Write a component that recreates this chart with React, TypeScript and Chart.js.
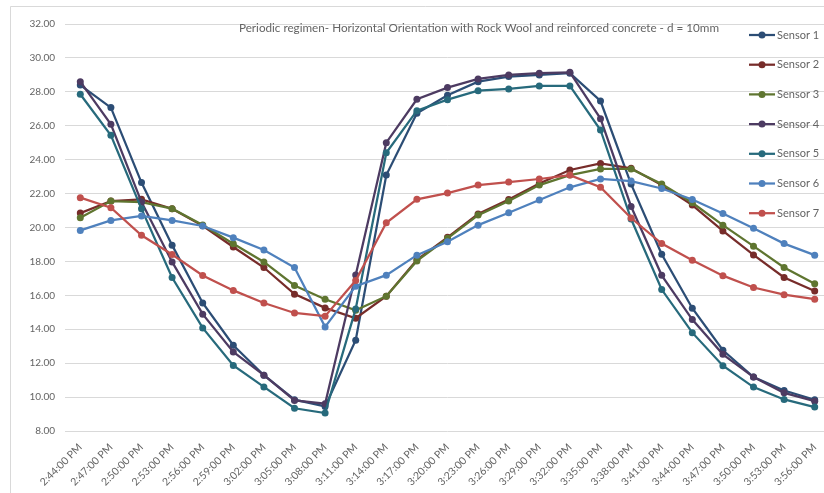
import { useEffect, useRef } from "react";
import { Chart, registerables } from "chart.js";

Chart.register(...registerables);

const timeLabels = [
  "2:44:00 PM", "2:47:00 PM", "2:50:00 PM", "2:53:00 PM", "2:56:00 PM",
  "2:59:00 PM", "3:02:00 PM", "3:05:00 PM", "3:08:00 PM", "3:11:00 PM",
  "3:14:00 PM", "3:17:00 PM", "3:20:00 PM", "3:23:00 PM", "3:26:00 PM",
  "3:29:00 PM", "3:32:00 PM", "3:35:00 PM", "3:38:00 PM", "3:41:00 PM",
  "3:44:00 PM", "3:47:00 PM", "3:50:00 PM", "3:53:00 PM", "3:56:00 PM",
];

const sensor1 = [28.4, 27.07, 22.65, 18.96, 15.55, 13.06, 11.29, 9.85, 9.45, 13.35, 23.09, 26.73, 27.8, 28.6, 28.9, 29.0, 29.1, 27.46, 22.56, 18.42, 15.24, 12.76, 11.18, 10.39, 9.84];
const sensor2 = [20.85, 21.56, 21.66, 21.11, 20.1, 18.85, 17.64, 16.07, 15.26, 14.65, 15.95, 18.1, 19.42, 20.8, 21.65, 22.6, 23.39, 23.78, 23.49, 22.5, 21.32, 19.8, 18.38, 17.05, 16.26];
const sensor3 = [20.58, 21.56, 21.5, 21.11, 20.15, 19.04, 17.97, 16.58, 15.77, 15.12, 15.95, 18.03, 19.36, 20.73, 21.56, 22.5, 23.09, 23.45, 23.45, 22.56, 21.46, 20.14, 18.9, 17.64, 16.69];
const sensor4 = [28.6, 26.09, 21.5, 17.97, 14.89, 12.66, 11.29, 9.8, 9.61, 17.2, 25.0, 27.56, 28.25, 28.76, 29.0, 29.1, 29.15, 26.42, 21.24, 17.18, 14.57, 12.52, 11.18, 10.25, 9.76];
const sensor5 = [27.86, 25.44, 21.1, 17.05, 14.08, 11.86, 10.6, 9.34, 9.06, 15.2, 24.41, 26.89, 27.54, 28.07, 28.17, 28.35, 28.35, 25.75, 20.5, 16.34, 13.8, 11.85, 10.59, 9.86, 9.41];
const sensor6 = [19.83, 20.42, 20.68, 20.42, 20.09, 19.4, 18.67, 17.64, 14.14, 16.54, 17.19, 18.37, 19.16, 20.14, 20.87, 21.62, 22.37, 22.86, 22.74, 22.3, 21.65, 20.83, 19.96, 19.05, 18.37];
const sensor7 = [21.76, 21.17, 19.54, 18.41, 17.17, 16.29, 15.55, 14.96, 14.77, 16.87, 20.28, 21.66, 22.03, 22.5, 22.68, 22.86, 23.09, 22.37, 20.56, 19.05, 18.07, 17.16, 16.46, 16.04, 15.77];

const seriesNames = ["Sensor 1", "Sensor 2", "Sensor 3", "Sensor 4", "Sensor 5", "Sensor 6", "Sensor 7"];
const seriesValues = [sensor1, sensor2, sensor3, sensor4, sensor5, sensor6, sensor7];
const seriesColors = ["#2C4D75", "#772C2A", "#5F7530", "#4D3B62", "#276A7C", "#4F81BD", "#C0504D"];

const yMin = 8;
const yMax = 32;
const yStep = 2;

const chartTitle = "Periodic regimen- Horizontal Orientation with Rock Wool and reinforced concrete - d = 10mm";

const FONT = "Lato, 'Open Sans', sans-serif";
const TEXT = "#646464";

export default function App() {
  const ref = useRef<HTMLCanvasElement>(null);

  useEffect(() => {
    const canvas = ref.current;
    if (!canvas) return;

    const decor = {
      id: "decor",
      beforeDraw(chart: any) {
        const c = chart.ctx;
        c.save();
        c.fillStyle = "#ffffff";
        c.fillRect(0, 0, chart.width, chart.height);
        c.strokeStyle = "#D9D9D9";
        c.lineWidth = 1;
        c.beginPath();
        c.moveTo(10.5, chart.height);
        c.lineTo(10.5, 6.5);
        c.lineTo(chart.width, 6.5);
        c.stroke();
        c.restore();
      },
      afterDraw(chart: any) {
        const c = chart.ctx;
        c.save();
        c.fillStyle = TEXT;
        c.font = `11.7px ${FONT}`;
        c.textAlign = "center";
        c.textBaseline = "middle";
        c.fillText(chartTitle, 479, 28);
        c.font = `11px ${FONT}`;
        c.textAlign = "left";
        seriesNames.forEach((name, i) => {
          const y = 35 + i * 29.7;
          c.strokeStyle = seriesColors[i];
          c.lineWidth = 2.25;
          c.beginPath();
          c.moveTo(749, y);
          c.lineTo(775, y);
          c.stroke();
          c.fillStyle = seriesColors[i];
          c.beginPath();
          c.arc(762, y, 3.5, 0, Math.PI * 2);
          c.fill();
          c.fillStyle = TEXT;
          c.fillText(name, 777, y);
        });
        c.restore();
      },
    };

    const chart = new Chart(canvas, {
      type: "line",
      data: {
        labels: timeLabels,
        datasets: seriesValues.map((vals, i) => ({
          label: seriesNames[i],
          data: vals,
          borderColor: seriesColors[i],
          backgroundColor: seriesColors[i],
          borderWidth: 2.25,
          pointRadius: 3.5,
          pointBorderWidth: 0,
          pointBackgroundColor: seriesColors[i],
          tension: 0,
          fill: false,
          order: seriesNames.length - i,
        })),
      },
      options: {
        responsive: false,
        animation: false,
        layout: { padding: { left: 0, right: 10, top: 24, bottom: 0 } },
        plugins: {
          legend: { display: false },
          tooltip: { enabled: false },
          title: { display: false },
        },
        scales: {
          x: {
            offset: true,
            grid: { display: false, drawTicks: false },
            border: { display: false },
            ticks: {
              autoSkip: false,
              minRotation: 45,
              maxRotation: 45,
              padding: 10,
              color: TEXT,
              font: { family: FONT, size: 10.5 },
            },
            afterFit: (s: any) => {
              s.height = 62;
            },
          },
          y: {
            min: yMin,
            max: yMax,
            grid: { color: "#D9D9D9", drawTicks: false },
            border: { display: false },
            ticks: {
              stepSize: yStep,
              padding: 10,
              color: TEXT,
              font: { family: FONT, size: 10 },
              callback: (v: any) => Number(v).toFixed(2),
            },
            afterFit: (s: any) => {
              s.width = 65;
            },
          },
        },
      },
      plugins: [decor],
    });

    return () => chart.destroy();
  }, []);

  return (
    <div
      style={{
        position: "fixed",
        left: 0,
        top: 0,
        width: 824,
        height: 493,
        overflow: "hidden",
        background: "#fff",
      }}
    >
      <canvas ref={ref} width={840} height={493} style={{ width: 840, height: 493, display: "block" }} />
    </div>
  );
}
